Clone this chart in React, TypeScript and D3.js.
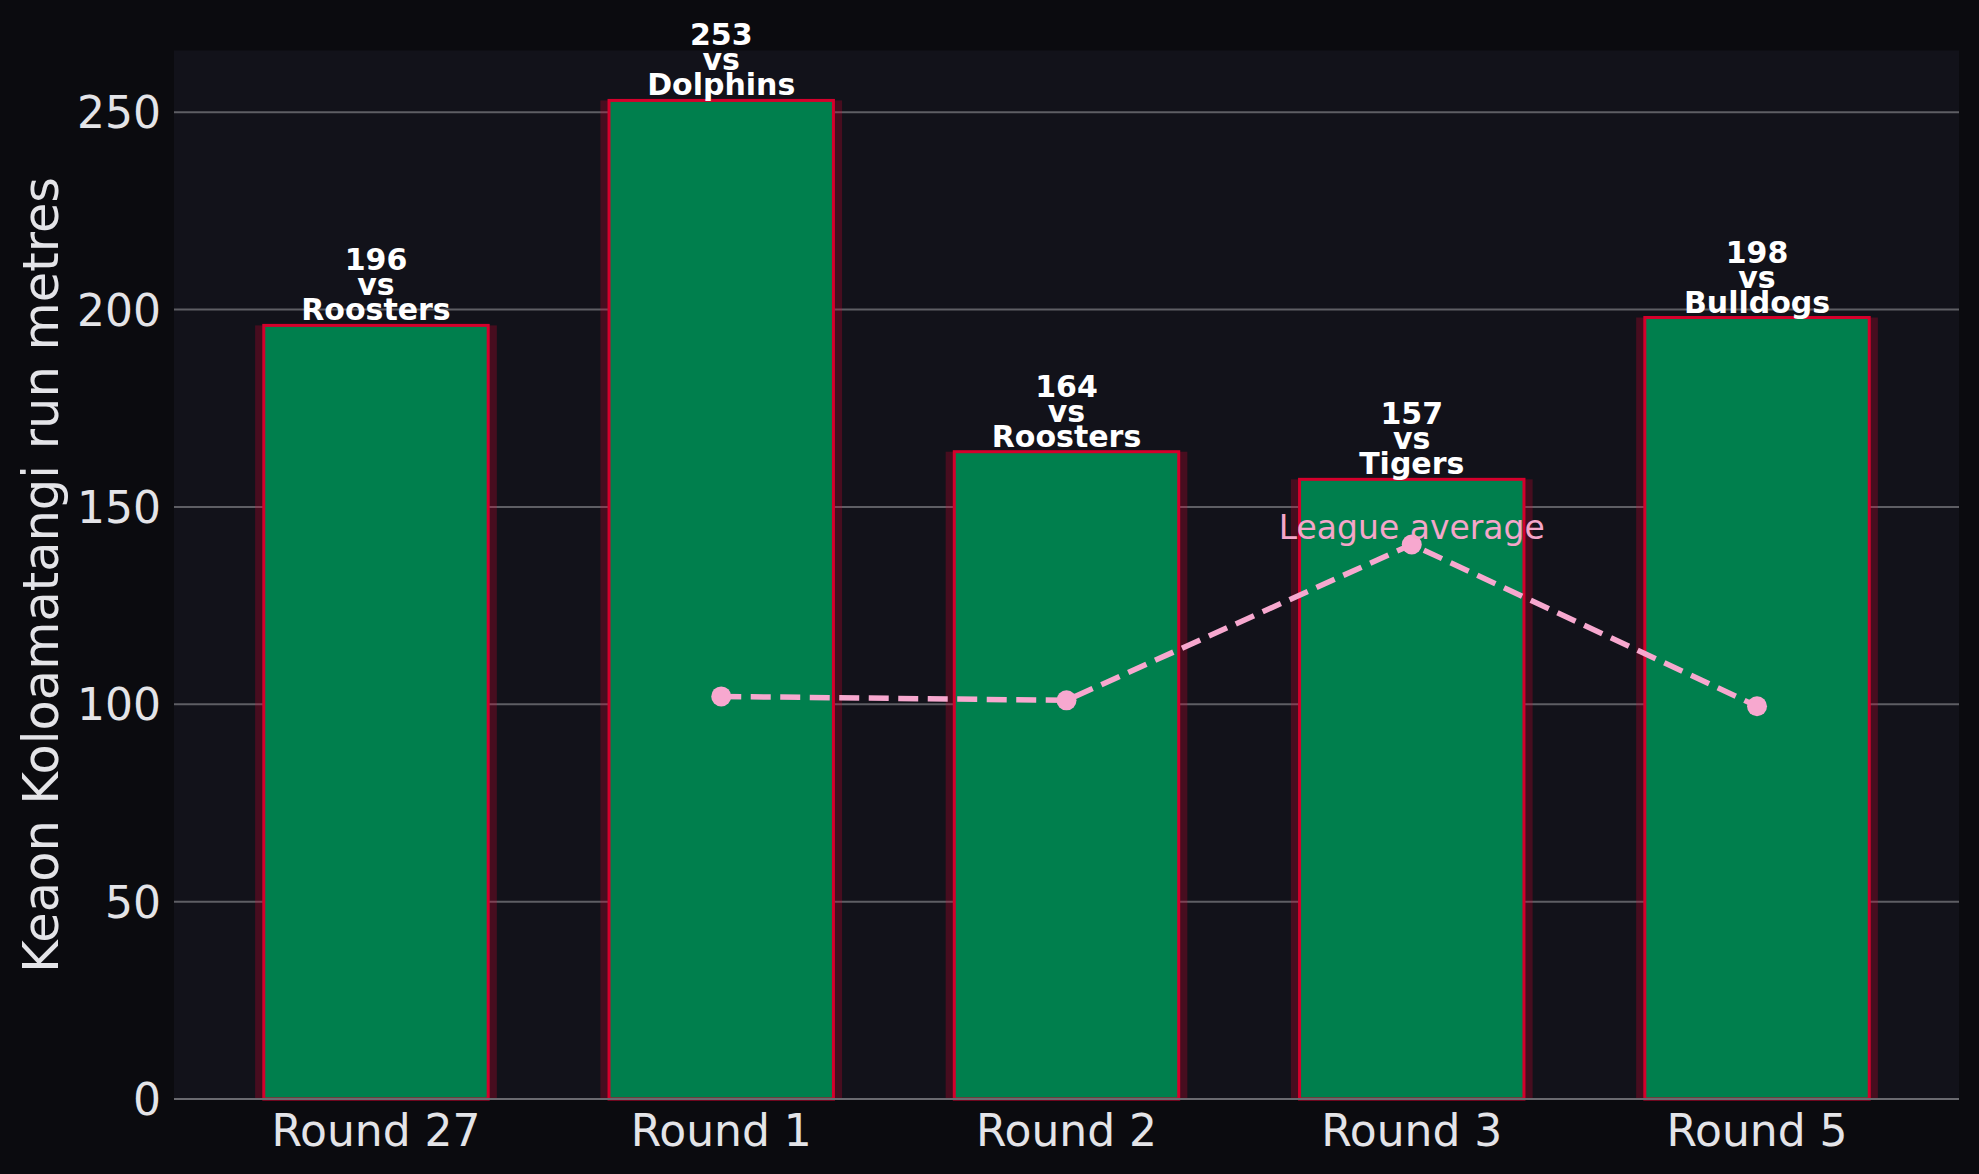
import React from 'react';
import * as d3 from 'd3';

const rounds = ['Round 27', 'Round 1', 'Round 2', 'Round 3', 'Round 5'];
const runMetres = [196, 253, 164, 157, 198];
const opponents = ['Roosters', 'Dolphins', 'Roosters', 'Tigers', 'Bulldogs'];
const leagueAvg: (number | null)[] = [null, 102, 101, 140.5, 99.5];
const yTicks = [0, 50, 100, 150, 200, 250];

const width = 1979;
const height = 1174;
const margin = { top: 50.5, right: 20, bottom: 75, left: 174 };

const FONT = '"DejaVu Sans", sans-serif';

export default function App() {
  const x = d3.scaleLinear()
    .domain([-0.585, rounds.length - 1 + 0.585])
    .range([margin.left, width - margin.right]);

  const y = d3.scaleLinear()
    .domain([0, d3.max(runMetres)! * 1.05])
    .range([height - margin.bottom, margin.top]);

  const unit = x(1) - x(0);
  const barW = unit * 0.65;
  const glowW = unit * 0.7;

  // league average line, skipping rounds without a value
  const avgPoints = leagueAvg
    .map((v, i) => ({ v, i }))
    .filter(d => d.v !== null) as { v: number; i: number }[];

  const line = d3.line<{ v: number; i: number }>()
    .x(d => x(d.i))
    .y(d => y(d.v));

  const peak = avgPoints.reduce((a, b) => (b.v > a.v ? b : a));

  return (
    <svg
      width={width}
      height={height}
      style={{ position: 'absolute', left: 0, top: 0, background: '#0b0b0f' }}
    >
      <rect x={0} y={0} width={width} height={height} fill="#0b0b0f" />
      <rect
        x={margin.left}
        y={margin.top}
        width={width - margin.left - margin.right}
        height={height - margin.top - margin.bottom}
        fill="#12121a"
      />

      {/* grid */}
      {yTicks.filter(t => t > 0).map(t => (
        <line
          key={t}
          x1={margin.left}
          x2={width - margin.right}
          y1={y(t)}
          y2={y(t)}
          stroke="#5e5e64"
          strokeWidth={2}
        />
      ))}

      {/* bars */}
      {runMetres.map((v, i) => (
        <g key={i}>
          <rect
            x={x(i) - glowW / 2}
            y={y(v)}
            width={glowW}
            height={y(0) - y(v)}
            fill="#d6002f"
            opacity={0.27}
          />
          <rect
            x={x(i) - barW / 2}
            y={y(v)}
            width={barW}
            height={y(0) - y(v)}
            fill="#007f4d"
            stroke="#d4002c"
            strokeWidth={3}
          />
          <text
            x={x(i)}
            textAnchor="middle"
            fontFamily={FONT}
            fontWeight="bold"
            fontSize={30}
            fill="#ffffff"
          >
            {[String(v), 'vs', opponents[i]].map((s, k) => (
              <tspan key={k} x={x(i)} y={y(v) - 5 - (2 - k) * 25}>{s}</tspan>
            ))}
          </text>
        </g>
      ))}

      {/* bottom spine */}
      <line
        x1={margin.left}
        x2={width - margin.right}
        y1={y(0)}
        y2={y(0)}
        stroke="#6a6a70"
        strokeWidth={2}
      />

      {/* league average */}
      <path
        d={line(avgPoints) || ''}
        fill="none"
        stroke="#f7a8cf"
        strokeWidth={5.5}
        strokeDasharray="20 9.5"
      />
      {avgPoints.map(d => (
        <circle key={d.i} cx={x(d.i)} cy={y(d.v)} r={10} fill="#f7a8cf" />
      ))}
      <text
        x={x(peak.i)}
        y={y(peak.v) - 5}
        textAnchor="middle"
        fontFamily={FONT}
        fontSize={33}
        fill="#f4a6c9"
      >
        League average
      </text>

      {/* y axis */}
      {yTicks.map(t => (
        <text
          key={t}
          x={margin.left - 13}
          y={y(t) + 16}
          textAnchor="end"
          fontFamily={FONT}
          fontSize={44}
          fill="#e4e4e8"
        >
          {t}
        </text>
      ))}

      {/* x axis */}
      {rounds.map((r, i) => (
        <text
          key={r}
          x={x(i)}
          y={1146}
          textAnchor="middle"
          fontFamily={FONT}
          fontSize={44}
          fill="#e4e4e8"
        >
          {r}
        </text>
      ))}

      <text
        transform={`translate(58, ${(margin.top + height - margin.bottom) / 2}) rotate(-90)`}
        textAnchor="middle"
        fontFamily={FONT}
        fontSize={49.5}
        fill="#e4e4e8"
      >
        Keaon Koloamatangi run metres
      </text>
    </svg>
  );
}
